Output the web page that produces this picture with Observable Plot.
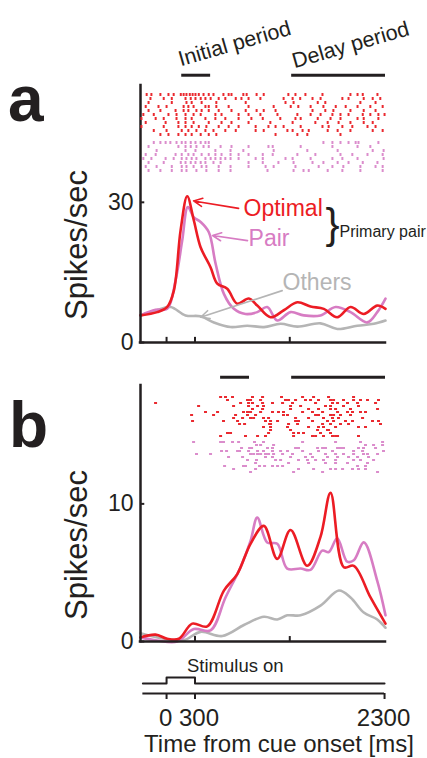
<!DOCTYPE html>
<html><head><meta charset="utf-8">
<script src="https://cdn.jsdelivr.net/npm/d3@7"></script>
<script src="https://cdn.jsdelivr.net/npm/@observablehq/plot@0.6"></script>
<style>
body{margin:0;background:#fff;}
#fig{position:relative;width:427px;height:758px;font-family:"Liberation Sans",Arial,Helvetica,sans-serif;color:#231f20;overflow:hidden;background:#fff}
#fig > *{position:absolute}
.lbl{white-space:nowrap;line-height:1}
</style></head><body><div id="fig"></div>
<script>
// ---------- data (time in ms from cue onset, rate in spikes/sec) ----------
const optimalA = [[-275,5.8],[-98,6.5],[7,7.6],[77,11.1],[148,24.0],[218,31.3],[288,26.1],[359,20.4],[464,16.1],[535,12.6],[640,11.5],[746,8.3],[868,9.4],[957,7.9],[1097,5.4],[1237,6.9],[1379,8.6],[1519,7.7],[1659,7.2],[1801,5.4],[1941,7.6],[2081,6.1],[2223,7.9],[2310,7.2]];
const pairA = [[-275,5.8],[-116,7.0],[7,7.2],[95,13.3],[165,21.8],[225,29.0],[288,26.8],[359,25.8],[446,23.6],[517,16.9],[605,10.4],[710,7.2],[833,6.1],[957,6.5],[1062,7.6],[1168,4.7],[1308,6.5],[1448,5.8],[1624,5.8],[1783,7.6],[1941,6.5],[2117,4.3],[2223,6.5],[2310,9.4]];
const othersA = [[-275,5.8],[-98,6.9],[42,7.6],[200,5.8],[359,5.6],[499,4.3],[675,3.3],[851,3.6],[1027,3.3],[1203,4.0],[1379,3.4],[1624,4.1],[1801,2.9],[2012,3.6],[2187,4.0],[2310,4.7]];

const optimalB = [[-275,0.3],[-116,0.5],[7,0.2],[130,0.2],[271,1.3],[429,1.1],[605,3.7],[746,4.9],[886,7.1],[1026,8.4],[1168,6.0],[1308,8.1],[1484,5.5],[1624,7.6],[1730,10.8],[1870,5.4],[1976,5.5],[2152,3.2],[2310,1.3]];
const pairB = [[-275,0.3],[-98,0.07],[113,0.0],[288,0.9],[464,0.8],[622,3.2],[781,5.4],[886,7.3],[957,9.0],[1062,7.2],[1168,7.1],[1273,5.3],[1414,5.3],[1519,5.2],[1642,6.6],[1712,6.5],[1801,7.5],[1906,5.8],[1976,5.9],[2081,7.2],[2223,4.4],[2310,1.9]];
const othersB = [[-275,0.6],[-28,0.2],[183,0.1],[359,0.7],[588,0.4],[816,1.2],[1027,1.8],[1168,1.6],[1273,1.9],[1414,1.9],[1624,2.6],[1818,3.7],[1941,3.2],[2081,2.1],[2223,1.6],[2310,1.0]];

// spike times per trial (ms)
const rasterOptimalA = [
 [-210,-160,-65,20,75,150,180,210,245,275,305,340,390,445,495,600,655,685,810,845,950,1025,1285,1360,1465,1645,1940,2015,2070,2225],
 [-170,-30,55,200,255,305,360,410,465,550,620,730,790,865,990,1235,1330,1410,1540,1625,1855,1920,2080,2175,2255],
 [-190,55,210,265,370,525,835,1255,1340,1595,1675,2045,2205],
 [-220,-85,0,180,230,285,410,445,525,655,865,1130,1310,1390,1520,1655,1785,1890,2015,2150,2280],
 [-190,-65,95,180,230,315,370,445,550,685,835,950,1025,1150,1540,1675,1760,1940,2080,2205],
 [-245,-135,20,105,200,285,360,515,580,760,865,990,1170,1380,1520,1625,1750,1835,1920,2070,2150,2235,2300],
 [-265,-115,-30,105,200,265,410,515,620,760,895,1015,1200,1360,1415,1595,1730,1835,2015,2080,2235],
 [-220,-10,125,200,285,445,580,685,865,1095,1330,1570,1700,1815,1940,2080,2175],
 [-265,-30,125,200,265,340,420,550,655,760,940,1075,1150,1235,1415,1645,1710,1855,1960,2120,2205],
 [-135,0,160,230,315,410,495,620,730,940,1025,1275,1330,1435,1500,1700,1805,1940,2175,2280],
 [-65,20,125,200,265,360,445,525,1150,1380,1485,1835]
];
const rasterPairA = [
 [-135,-65,-10,40,105,160,200,255,305,360,410,445,1655,1750,1835,1920,1995,2025,2235],
 [-190,125,200,255,315,390,445,570,685,865,1075,1120,1415,1750,2015,2150],
 [-105,200,305,515,675,810,1130,1485,1805,2175,2290],
 [-220,-115,95,160,230,285,370,445,515,580,675,760,865,1015,1120,1380,1570,1835,1960,2120,2280],
 [-245,-160,-10,75,160,210,265,315,410,465,515,570,620,675,760,940,1015,1255,1330,1520,1750,1855,2015,2290],
 [-190,-30,150,200,255,305,360,410,495,570,865,1015,1180,1340,1540,1655,1805,1920,2070,2225],
 [-220,-105,55,160,210,285,370,420,550,675,865,1045,1130,1360,1605,1750,1865,2045,2205,2280],
 [-190,-65,55,160,210,315,420,550,675,1065,1340,1445,1500,1700,1855,2045,2280]
];
const rasterOptimalB = [
 [570,622,696,907,1013,1213,1435,1551,1709,1973],
 [643,854,886,992,1255,1287,1361,1466,1519,1603,1730,1762,1867,1973,2046,2120,2236],
 [-116,781,865,907,1013,1118,1224,1329,1572,1751,1804,1909,2015,2205],
 [338,707,865,960,1023,1308,1414,1677,1730,1867,2025],
 [907,1013,1308,1498,1603,1730,1783,1941,2226],
 [411,538,812,854,886,992,1118,1181,1234,1435,1540,1646,1804,1909,1962,2046,2099],
 [264,496,728,854,939,1234,1276,1572,1603,1730,1762,1835,1941],
 [707,802,886,918,1023,1076,1361,1498,1656,1751,1814,2068],
 [274,601,749,1044,1097,1171,1361,1392,1540,1698,1762,1888,1962,2173,2236],
 [770,823,1087,1097,1287,1382,1646,1730,1835,1920,2257],
 [1023,1097,1276,1498,1603,1656,1783,2025,2099],
 [1097,1308,1593,1698,1709],
 [643,675,1076,1340,1392,1445,1624,1730],
 [570,833,960,1044,1340,1540,1572,1656,1751,1783,1804,2025]
];
const rasterPairB = [
 [285,570,601,696,760,928,1023,1435,1783,2046,2279],
 [949,992,1129,2099,2184,2279],
 [791,876,897,1065,1118,1361,1392,1593,1646,1677,1804,1835,1867,2025,2078,2205],
 [580,633,749,770,865,960,1023,1118,1203,1276,1435,1603,1751,1973,2068,2289],
 [316,464,886,918,960,992,1044,1076,1129,1224,1329,1519,1677,1783,1867,1973,2078,2120,2226],
 [654,802,1044,1118,1308,1466,1540,1698,1804,1920,2015,2131],
 [854,949,1150,1203,1392,1487,1572,1656,1783,1973,2046,2184],
 [939,1287,1498,1677,1783,1909,2120],
 [612,812,833,981,1034,1118,1171,1224,2015,2099],
 [707,939,1392,1551,1730,1783,1857,1962,2025,2099],
 [886,1340,1646,2226]
];

const periodsA = [{start:160, end:465}, {start:1320, end:2310}];
const periodsB = [{start:570, end:875}, {start:1320, end:2310}];
const periodNames = ["Initial period", "Delay period"];
const yTicksA = [0, 30];
const yTicksB = [0, 10];
const xTicksA = [0, 300, 1300];
const xTicksB = [300, 1300];
const xTicksTime = [0, 300, 2300];
const stimT = [-250, 0, 300, 2300];
const stimOn = [0, 1, 0, 0];

// ---------- layout / style ----------
const W = 427, ML = 140, MR = 42;
const xDomain = [-275, 2310];
const RED = "#ec1c24", PINK = "#d77cc3", GRAY = "#b5b5b5", RRED = "#ea2a30", RPINK = "#db8dcc", INK = "#231f20";
const FONT = "'Liberation Sans', Arial, Helvetica, sans-serif";
const style = {fontFamily: FONT, background: "transparent", overflow: "visible", color: INK};

const series = pairs => pairs.map(([t, v]) => ({t, v}));
function raster(rowsO, rowsP) {
  const out = [];
  rowsO.forEach((r, i) => r.forEach(t => out.push({t, row: "o" + i, g: "o"})));
  rowsP.forEach((r, i) => r.forEach(t => out.push({t, row: "p" + i, g: "p"})));
  return out;
}
const rowDomain = (nO, nP) => [...d3.range(nO).map(i => "o" + i), "gap", ...d3.range(nP).map(i => "p" + i)];

function psth({opt, pair, oth, yMax, height, mTop, mBottom, yTicks, xTicks, tickLenY, periods, barY, extra}) {
  return Plot.plot({
    width: W, height, marginLeft: ML, marginRight: MR, marginTop: mTop, marginBottom: mBottom,
    style,
    x: {domain: xDomain, axis: null},
    y: {domain: [0, yMax], label: null},
    marks: [
      Plot.line(series(oth), {x: "t", y: "v", stroke: GRAY, strokeWidth: 2.6, curve: "catmull-rom"}),
      Plot.line(series(pair), {x: "t", y: "v", stroke: PINK, strokeWidth: 2.6, curve: "catmull-rom"}),
      Plot.line(series(opt), {x: "t", y: "v", stroke: RED, strokeWidth: 2.6, curve: "catmull-rom"}),
      Plot.ruleX([xDomain[0]], {y1: 0, y2: yMax, stroke: INK, strokeWidth: 2.5, strokeLinecap: "square"}),
      Plot.ruleY([0], {x1: xDomain[0], x2: xDomain[1], stroke: INK, strokeWidth: 2.5, strokeLinecap: "square"}),
      Plot.ruleY(yTicks, {x1: xDomain[0], x2: xDomain[0] + 45, stroke: INK, strokeWidth: 2}),
      Plot.ruleX(xTicks, {y1: 0, y2: tickLenY, stroke: INK, strokeWidth: 2}),
      Plot.axisY(yTicks, {anchor: "left", tickSize: 0, tickPadding: 7, fontSize: 23, fill: INK, label: null}),
      Plot.ruleY(periods, {x1: "start", x2: "end", y: barY, stroke: INK, strokeWidth: 3}),
      ...extra
    ]
  });
}

function rasterPlot(rowsO, rowsP, height, pad, sw) {
  const data = raster(rowsO, rowsP);
  return Plot.plot({
    width: W, height, marginLeft: ML, marginRight: MR, marginTop: 0, marginBottom: 0,
    style,
    x: {domain: xDomain, axis: null},
    y: {type: "band", domain: rowDomain(rowsO.length, rowsP.length), axis: null, paddingInner: pad, paddingOuter: 0},
    marks: [
      Plot.tickX(data.filter(d => d.g === "o"), {x: "t", y: "row", stroke: RRED, strokeWidth: sw}),
      Plot.tickX(data.filter(d => d.g === "p"), {x: "t", y: "row", stroke: RPINK, strokeWidth: sw})
    ]
  });
}

// annotations (panel a), in data units
const periodLabelPos = [{t: 150, v: 59.1}, {t: 1350, v: 58.7}];
const labelsA = [
  {text: "Optimal", t: 812, v: 28.7, c: RED, fs: 23},
  {text: "Pair", t: 865, v: 22.3, c: PINK, fs: 23},
  {text: "Others", t: 1224, v: 12.8, c: GRAY, fs: 23},
  {text: "Primary pair", t: 1825, v: 23.6, c: INK, fs: 16}
];
const braceA = {text: "}", t: 1750, v: 25.2};
const arrowsA = [
  {t1: 760, v1: 28.7, t2: 285, v2: 30.3, c: RED},
  {t1: 854, v1: 21.8, t2: 485, v2: 22.9, c: PINK},
  {t1: 1220, v1: 11.1, t2: 359, v2: 5.4, c: GRAY}
];

const extraA = [
  Plot.text(periodNames.map((n, i) => ({n, ...periodLabelPos[i]})), {x: "t", y: "v", text: "n", rotate: -16, textAnchor: "start", lineAnchor: "bottom", fontSize: 21.5, fill: INK}),
  ...arrowsA.map(a => Plot.arrow([a], {x1: "t1", y1: "v1", x2: "t2", y2: "v2", stroke: a.c, strokeWidth: 1.6, headLength: 9, headAngle: 50})),
  ...labelsA.map(l => Plot.text([l], {x: "t", y: "v", text: "text", fill: l.c, fontSize: l.fs, textAnchor: "start", lineAnchor: "middle"})),
  Plot.text([braceA], {x: "t", y: "v", text: "text", fill: INK, fontSize: 42, textAnchor: "middle", lineAnchor: "middle"})
];
const extraB = [];

const fig = document.getElementById("fig");
function place(el, top, left = 0) { el.style.top = top + "px"; el.style.left = left + "px"; fig.appendChild(el); return el; }

place(psth({opt: optimalA, pair: pairA, oth: othersA, yMax: 55, height: 360, mTop: 85, mBottom: 18, yTicks: yTicksA, xTicks: xTicksA, tickLenY: 1.1, periods: periodsA, barY: 57.2, extra: extraA}), 0);
place(rasterPlot(rasterOptimalA, rasterPairA, 95, 0.15, 2), 85);
place(psth({opt: optimalB, pair: pairB, oth: othersB, yMax: 18.6, height: 300, mTop: 25, mBottom: 19, yTicks: yTicksB, xTicks: xTicksB, tickLenY: 0.36, periods: periodsB, barY: 19.2, extra: extraB}), 360);
place(rasterPlot(rasterOptimalB, rasterPairB, 97, 0.2, 3), 386);

// stimulus + time axis
const stim = stimT.map((t, i) => ({t, on: stimOn[i]}));
const tickLabelStyle = {anchor: "bottom", tickSize: 0, tickPadding: 15, fontSize: 24, fill: INK, tickFormat: d => String(d), label: null};
place(Plot.plot({
  width: W, height: 103, marginLeft: ML, marginRight: MR, marginTop: 10, marginBottom: 65,
  style,
  x: {domain: xDomain, label: null, axis: null},
  y: {domain: [0, 1], range: [28, 22], axis: null},
  marks: [
    Plot.line(stim, {x: "t", y: "on", curve: "step-after", stroke: INK, strokeWidth: 2}),
    Plot.ruleY([0], {x1: stimT[0], x2: stimT[stimT.length - 1], dy: 10, stroke: INK, strokeWidth: 2.2}),
    Plot.axisX(xTicksTime, {anchor: "bottom", tickSize: 6, strokeWidth: 2, stroke: INK, tickFormat: () => "", label: null}),
    Plot.axisX(xTicksTime.filter(d => d !== 300), {...tickLabelStyle, dx: -1}),
    Plot.axisX(xTicksTime.filter(d => d === 300), {...tickLabelStyle, dx: 4})
  ]
}), 655);

// HTML labels
function lbl(text, css) { const d = document.createElement("div"); d.className = "lbl"; d.textContent = text; Object.assign(d.style, css); fig.appendChild(d); return d; }
lbl("a", {left: "8px", top: "67px", fontSize: "64px", fontWeight: "bold"});
lbl("b", {left: "9px", top: "393px", fontSize: "64px", fontWeight: "bold"});
lbl("Spikes/sec", {left: "76px", top: "245px", fontSize: "31px", transform: "translate(-50%,-50%) rotate(-90deg)"});
lbl("Spikes/sec", {left: "76px", top: "545px", fontSize: "31px", transform: "translate(-50%,-50%) rotate(-90deg)"});
lbl("Stimulus on", {left: "187px", top: "657px", fontSize: "18.5px"});
lbl("Time from cue onset [ms]", {left: "279px", top: "732px", fontSize: "24px", transform: "translateX(-50%)"});
</script></body></html>
